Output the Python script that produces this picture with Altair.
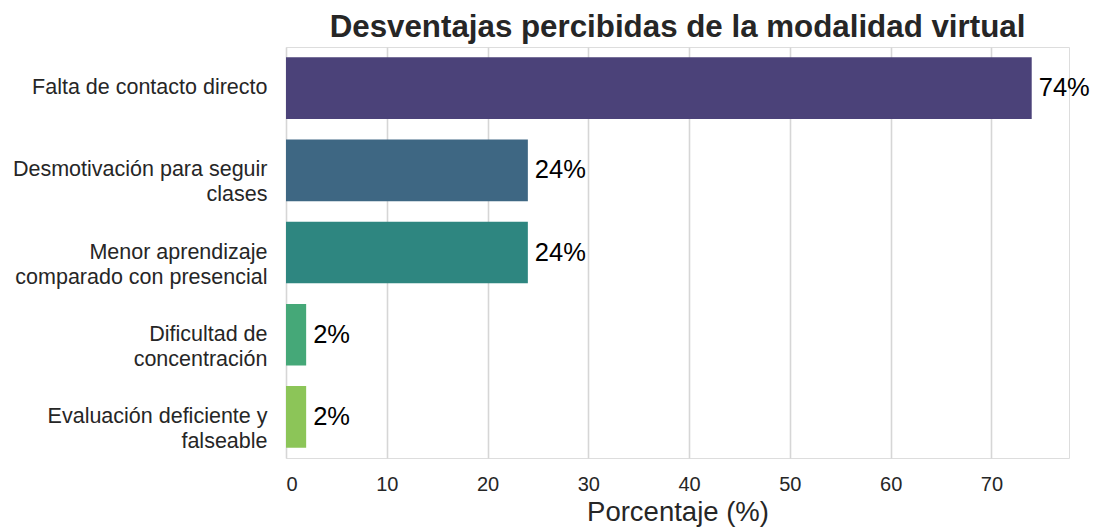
import altair as alt
import pandas as pd

categories = [
    "Falta de contacto directo",
    "Desmotivación para seguir\nclases",
    "Menor aprendizaje\ncomparado con presencial",
    "Dificultad de\nconcentración",
    "Evaluación deficiente y\nfalseable",
]
values = [74, 24, 24, 2, 2]
labels = ["74%", "24%", "24%", "2%", "2%"]
colors = ["#4b4279", "#3e6783", "#2e8680", "#45a878", "#8cc558"]

df = pd.DataFrame({"cat": categories, "val": values, "lab": labels})

FONT = "Liberation Sans"

y_enc = alt.Y(
    "cat:N",
    sort=categories,
    title=None,
    scale=alt.Scale(paddingInner=0.25, paddingOuter=0.125),
    axis=alt.Axis(
        labelExpr="split(datum.label, '\\n')",
        labelFontSize=21.5,
        labelColor="#262626",
        labelFont=FONT,
        labelLineHeight=25,
        ticks=False,
        domain=False,
        grid=False,
        labelPadding=19,
        labelLimit=400,
    ),
)

x_enc = alt.X(
    "val:Q",
    title="Porcentaje (%)",
    scale=alt.Scale(domain=[0, 77.7], nice=False, zero=True),
    axis=alt.Axis(
        values=[0, 10, 20, 30, 40, 50, 60, 70],
        labelFontSize=20,
        labelColor="#262626",
        labelFont=FONT,
        titleFontSize=27.5,
        titleFont=FONT,
        titleColor="#262626",
        titleFontWeight="normal",
        ticks=False,
        domain=False,
        grid=True,
        gridColor="#d6d6d6",
        gridWidth=1.6,
        labelPadding=16,
        titlePadding=4,
    ),
)

bars = alt.Chart(df).mark_bar().encode(
    x=x_enc,
    y=y_enc,
    color=alt.Color("cat:N", sort=categories,
                    scale=alt.Scale(domain=categories, range=colors), legend=None),
)

text = alt.Chart(df).mark_text(
    align="left", baseline="middle", dx=7, fontSize=25.5, font=FONT, color="black"
).encode(
    x=alt.X("val:Q"),
    y=alt.Y("cat:N", sort=categories),
    text="lab:N",
)

chart = (
    alt.layer(bars, text)
    .properties(
        width=783,
        height=411,
        autosize=alt.AutoSizeParams(type="none"),
        padding={"left": 278, "top": 39, "right": 21, "bottom": 80},
        title=alt.TitleParams(
            "Desventajas percibidas de la modalidad virtual",
            fontSize=31.3,
            font=FONT,
            fontWeight="bold",
            color="#262626",
            anchor="middle",
            offset=4,
        ),
    )
    .configure_view(stroke="#cccccc", strokeWidth=2)
    .configure(background="white")
)

chart.save("out.html", embed_options={"renderer": "svg", "actions": False})
